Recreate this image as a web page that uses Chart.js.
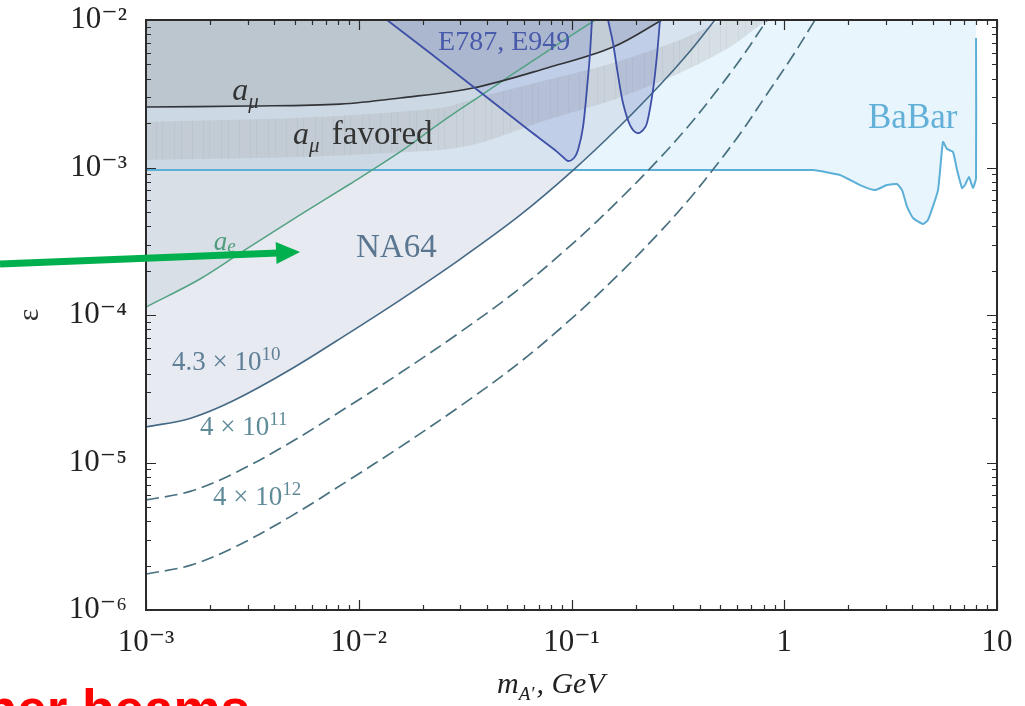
<!DOCTYPE html>
<html><head><meta charset="utf-8">
<script src="https://cdn.jsdelivr.net/npm/chart.js@4.4.1/dist/chart.umd.min.js"></script>
<style>html,body{margin:0;padding:0;background:#fff;}canvas{display:block;}</style>
</head><body>
<canvas id="c" width="1025" height="706"></canvas>
<script>
// ---------- axis ticks ----------
const xMajor = [0.001, 0.01, 0.1, 1, 10];
const xTickLabels = ['10⁻³', '10⁻²', '10⁻¹', '1', '10'];
const yMajor = [1e-6, 1e-5, 1e-4, 1e-3, 1e-2];
const yTickLabels = ['10⁻⁶', '10⁻⁵', '10⁻⁴', '10⁻³', '10⁻²'];
const minorSteps = [1, 2, 3, 4, 5, 6, 7, 8, 9];

// ---------- NA64 limit, 4.3e10 EOT (solid) ----------
const mNA64 = [0.001, 0.00161, 0.00257, 0.00475, 0.0091, 0.01563, 0.0299, 0.0573, 0.1016, 0.169, 0.261, 0.3606, 0.4725];
const eNA64 = [1.74e-5, 1.99e-5, 2.62e-5, 4.25e-5, 7.63e-5, 1.262e-4, 2.385e-4, 4.75e-4, 9.56e-4, 1.91e-3, 3.635e-3, 6.14e-3, 1.0e-2];
// ---------- projection 4e11 EOT (dashed) ----------
const m4e11 = [0.001, 0.00161, 0.00257, 0.00475, 0.0091, 0.01563, 0.0299, 0.0573, 0.1016, 0.169, 0.261, 0.3606, 0.4725, 0.619, 0.830];
const e4e11 = [5.57e-6, 6.37e-6, 8.39e-6, 1.360e-5, 2.442e-5, 4.04e-5, 7.63e-5, 1.520e-4, 3.06e-4, 6.11e-4, 1.164e-3, 1.965e-3, 3.20e-3, 5.35e-3, 1.0e-2];
// ---------- projection 4e12 EOT (dashed) ----------
const m4e12 = [0.001, 0.00161, 0.00257, 0.00475, 0.0091, 0.01563, 0.0299, 0.0573, 0.1016, 0.169, 0.261, 0.3606, 0.4725, 0.619, 0.830, 1.087, 1.395];
const e4e12 = [1.754e-6, 2.006e-6, 2.64e-6, 4.28e-6, 7.69e-6, 1.272e-5, 2.403e-5, 4.79e-5, 9.64e-5, 1.924e-4, 3.67e-4, 6.19e-4, 1.008e-3, 1.685e-3, 3.15e-3, 5.61e-3, 1.0e-2];
// ---------- a_e ----------
const mAe = [0.001, 0.001794, 0.00292, 0.0053, 0.0091, 0.01563, 0.0241, 0.03715, 0.0711, 0.129];
const eAe = [1.132e-4, 1.754e-4, 2.76e-4, 4.77e-4, 7.73e-4, 1.274e-3, 2.00e-3, 3.05e-3, 5.70e-3, 1.0e-2];
// ---------- a_mu ----------
const mAmu = [0.001, 0.00308, 0.00816, 0.01563, 0.03443, 0.07674, 0.1567, 0.2663];
const eAmu = [2.57e-3, 2.61e-3, 2.69e-3, 2.96e-3, 3.46e-3, 4.73e-3, 6.56e-3, 1.0e-2];
// ---------- a_mu favored band ----------
const mBandHi = [0.001, 0.0053, 0.0241, 0.03715, 0.07674, 0.1567, 0.3236, 0.462, 0.5097, 0.8387];
const eBandHi = [2.035e-3, 2.17e-3, 2.53e-3, 3.01e-3, 3.92e-3, 5.11e-3, 7.32e-3, 9.25e-3, 1.0e-2, 1.0e-2];
const mBandLo = [0.001, 0.0053, 0.0241, 0.03715, 0.07674, 0.1567, 0.3236, 0.556, 0.794, 0.8387];
const eBandLo = [1.125e-3, 1.178e-3, 1.315e-3, 1.466e-3, 2.10e-3, 2.87e-3, 4.37e-3, 6.56e-3, 9.55e-3, 1.0e-2];
// ---------- E787, E949 ----------
const mE1 = [0.01358, 0.02163, 0.03715, 0.06381, 0.0836, 0.0912, 0.0963, 0.1028, 0.1073, 0.1133, 0.1196, 0.1222, 0.1248];
const eE1 = [1.0e-2, 5.97e-3, 3.25e-3, 1.767e-3, 1.315e-3, 1.178e-3, 1.107e-3, 1.160e-3, 1.315e-3, 1.884e-3, 4.11e-3, 5.97e-3, 1.0e-2];
const mE2 = [0.1485, 0.1567, 0.1654, 0.1746, 0.1884, 0.2032, 0.2169, 0.2264, 0.2416, 0.2523, 0.2606];
const eE2 = [1.0e-2, 6.98e-3, 4.24e-3, 2.74e-3, 1.94e-3, 1.714e-3, 1.795e-3, 2.00e-3, 3.35e-3, 5.79e-3, 1.0e-2];
// ---------- BaBar ----------
const mBaBar = [0.001, 1.0, 1.365, 1.828, 2.27, 2.67, 3.04, 3.39, 3.58, 3.78, 4.03, 4.49, 4.74, 5.28, 5.57, 5.82, 6.21, 6.49, 6.85, 7.07, 7.38, 7.71, 7.97, 7.97];
const eBaBar = [9.61e-4, 9.61e-4, 9.61e-4, 8.89e-4, 7.60e-4, 7.03e-4, 7.60e-4, 7.73e-4, 7.03e-4, 5.40e-4, 4.55e-4, 4.14e-4, 4.41e-4, 7.03e-4, 1.49e-3, 1.334e-3, 1.274e-3, 9.61e-4, 7.26e-4, 7.60e-4, 8.63e-4, 7.26e-4, 8.49e-4, 7.55e-3];

// ---------- text annotations (data coordinates) ----------
const SERIF = '"Liberation Serif", "DejaVu Serif", serif';
const annotations = [
  { at: [0.00254, 2.87e-3], color: '#333333', parts: [{ t: 'a', f: 'italic 32px ' + SERIF }, { t: 'μ', f: 'italic 21px ' + SERIF, dy: 8 }] },
  { at: [0.00491, 1.442e-3], color: '#333333', parts: [{ t: 'a', f: 'italic 32px ' + SERIF }, { t: 'μ', f: 'italic 21px ' + SERIF, dy: 8, gap: 4 }, { t: ' favored', f: '33px ' + SERIF }] },
  { at: [0.02359, 6.27e-3], color: '#4a5aaa', parts: [{ t: 'E787, E949', f: '28px ' + SERIF }] },
  { at: [2.476, 1.854e-3], color: '#62b0d8', parts: [{ t: 'BaBar', f: '35px ' + SERIF }] },
  { at: [0.00971, 2.47e-4], color: '#5a7690', parts: [{ t: 'NA64', f: '33px ' + SERIF }] },
  { at: [0.00208, 2.78e-4], color: '#4f9c7c', parts: [{ t: 'a', f: 'italic 27px ' + SERIF }, { t: 'e', f: 'italic 19px ' + SERIF, dy: 2 }] },
  { at: [0.001325, 4.24e-5], color: '#5f7f98', parts: [{ t: '4.3 × 10', f: '27px ' + SERIF }, { t: '10', f: '19px ' + SERIF, dy: -10 }] },
  { at: [0.001794, 1.535e-5], color: '#5f8a98', parts: [{ t: '4 × 10', f: '27px ' + SERIF }, { t: '11', f: '19px ' + SERIF, dy: -10 }] },
  { at: [0.002065, 5.15e-6], color: '#5f8a98', parts: [{ t: '4 × 10', f: '27px ' + SERIF }, { t: '12', f: '19px ' + SERIF, dy: -10 }] }
];
const arrowTail = [2.06e-4, 2.22e-4];
const arrowTip = [0.0053, 2.67e-4];
const slideText = 'ner beams';

// ---------- helpers ----------
const pts = (ms, es) => ms.map((m, i) => ({ x: m, y: es[i] }));
const decadeTicks = (majors) => {
  const out = [];
  majors.forEach((d, i) => {
    if (i === majors.length - 1) { out.push(d); return; }
    minorSteps.forEach(k => out.push(parseFloat((d * k).toPrecision(6))));
  });
  return out;
};
const xTicks = decadeTicks(xMajor);
const yTicks = decadeTicks(yMajor);
const isMajorOf = (majors, v) => majors.findIndex(m => Math.abs(Math.log10(v / m)) < 1e-6);

const canvas = document.getElementById('c');
const ctx0 = canvas.getContext('2d');
// hatched fill for the a_mu favored band
const hc = document.createElement('canvas');
hc.width = 47; hc.height = 4;
const hg = hc.getContext('2d');
hg.fillStyle = 'rgba(176,178,182,0.34)'; hg.fillRect(0, 0, 47, 4);
hg.fillStyle = 'rgba(140,145,150,0.10)';
[4, 15, 21, 33, 40].forEach(x => hg.fillRect(x, 0, 1, 4));
const hatch = ctx0.createPattern(hc, 'repeat');

const bandPoly = pts(mBandHi, eBandHi).concat(pts(mBandLo, eBandLo).reverse());
const NONE = 'rgba(0,0,0,0)';

const datasets = [
  // fills
  { label: 'BaBar region', data: pts(mBaBar, eBaBar), fill: 'end', backgroundColor: 'rgba(190,225,245,0.35)', borderColor: NONE, borderWidth: 0, tension: 0.15, order: 20 },
  { label: 'NA64 region', data: pts(mNA64, eNA64), fill: 'end', backgroundColor: 'rgba(175,185,205,0.3)', borderColor: NONE, borderWidth: 0, tension: 0.35, order: 19 },
  { label: 'a_e region', data: pts(mAe, eAe), fill: 'end', backgroundColor: 'rgba(160,180,190,0.2)', borderColor: NONE, borderWidth: 0, tension: 0.35, order: 18 },
  { label: 'a_mu region', data: pts(mAmu, eAmu), fill: 'end', backgroundColor: 'rgba(150,155,160,0.3)', borderColor: NONE, borderWidth: 0, tension: 0.35, order: 17 },
  { label: 'a_mu favored', data: bandPoly, fill: 'shape', backgroundColor: hatch, borderColor: NONE, borderWidth: 0, tension: 0.25, order: 16 },
  { label: 'E787 region 1', data: pts(mE1, eE1), fill: 'end', backgroundColor: 'rgba(90,110,200,0.18)', borderColor: NONE, borderWidth: 0, tension: 0.3, order: 15 },
  { label: 'E787 region 2', data: pts(mE2, eE2), fill: 'end', backgroundColor: 'rgba(90,110,200,0.18)', borderColor: NONE, borderWidth: 0, tension: 0.3, order: 14 },
  // lines
  { label: 'BaBar', data: pts(mBaBar, eBaBar), fill: false, borderColor: '#5cb0d8', borderWidth: 2, tension: 0.15, order: 8 },
  { label: 'a_e', data: pts(mAe, eAe), fill: false, borderColor: '#52a283', borderWidth: 1.5, tension: 0.35, order: 7 },
  { label: 'a_mu', data: pts(mAmu, eAmu), fill: false, borderColor: '#333438', borderWidth: 1.6, tension: 0.35, order: 6 },
  { label: 'NA64 4.3e10', data: pts(mNA64, eNA64), fill: false, borderColor: '#456985', borderWidth: 1.6, tension: 0.35, order: 5 },
  { label: 'NA64 4e11', data: pts(m4e11, e4e11), fill: false, borderColor: '#48707f', borderWidth: 1.7, borderDash: [13, 6], tension: 0.35, order: 4 },
  { label: 'NA64 4e12', data: pts(m4e12, e4e12), fill: false, borderColor: '#48707f', borderWidth: 1.7, borderDash: [13, 6], tension: 0.35, order: 3 },
  { label: 'E787 1', data: pts(mE1, eE1), fill: false, borderColor: '#3d4fa6', borderWidth: 1.8, tension: 0.3, order: 2 },
  { label: 'E787 2', data: pts(mE2, eE2), fill: false, borderColor: '#3d4fa6', borderWidth: 1.8, tension: 0.3, order: 1 }
];

const overlay = {
  id: 'overlay',
  afterDatasetsDraw(chart) {
    const { ctx, scales: { x, y } } = chart;
    ctx.save();
    ctx.textAlign = 'left'; ctx.textBaseline = 'alphabetic';
    annotations.forEach(a => {
      let px = x.getPixelForValue(a.at[0]);
      const py = y.getPixelForValue(a.at[1]);
      ctx.fillStyle = a.color;
      a.parts.forEach(p => {
        ctx.font = p.f;
        ctx.fillText(p.t, px, py + (p.dy || 0));
        px += ctx.measureText(p.t).width + (p.gap || 0);
      });
    });
    ctx.restore();
  },
  afterDraw(chart) {
    const { ctx, chartArea: a, scales: { x, y } } = chart;
    ctx.save();
    ctx.strokeStyle = '#2b2b2b';
    ctx.lineWidth = 1.2;
    ctx.beginPath();
    xTicks.forEach(v => {
      const px = Math.round(x.getPixelForValue(v)) + 0.5;
      const L = isMajorOf(xMajor, v) >= 0 ? 10 : 5;
      ctx.moveTo(px, a.bottom); ctx.lineTo(px, a.bottom - L);
      ctx.moveTo(px, a.top); ctx.lineTo(px, a.top + L);
    });
    yTicks.forEach(v => {
      const py = Math.round(y.getPixelForValue(v)) + 0.5;
      const L = isMajorOf(yMajor, v) >= 0 ? 10 : 5;
      ctx.moveTo(a.left, py); ctx.lineTo(a.left + L, py);
      ctx.moveTo(a.right, py); ctx.lineTo(a.right - L, py);
    });
    ctx.stroke();
    ctx.lineWidth = 2;
    ctx.strokeRect(a.left, a.top, a.right - a.left, a.bottom - a.top);

    // x-axis title: m_A', GeV
    ctx.fillStyle = '#222';
    ctx.textBaseline = 'alphabetic'; ctx.textAlign = 'left';
    let tx = 497; const ty = 693;
    ctx.font = 'italic 30px ' + SERIF; ctx.fillText('m', tx, ty); tx += ctx.measureText('m').width;
    ctx.font = 'italic 19px ' + SERIF; ctx.fillText('A′', tx, ty + 7); tx += ctx.measureText('A′').width + 2;
    ctx.font = 'italic 30px ' + SERIF; ctx.fillText(', GeV', tx, ty);

    // green arrow
    const x0 = x.getPixelForValue(arrowTail[0]), y0 = y.getPixelForValue(arrowTail[1]);
    const x1 = x.getPixelForValue(arrowTip[0]), y1 = y.getPixelForValue(arrowTip[1]);
    const len = Math.hypot(x1 - x0, y1 - y0), ux = (x1 - x0) / len, uy = (y1 - y0) / len;
    const hl = 24, hw = 11;
    const bx = x1 - ux * hl, by = y1 - uy * hl;
    ctx.strokeStyle = '#00b04f'; ctx.fillStyle = '#00b04f';
    ctx.lineWidth = 7; ctx.lineCap = 'butt';
    ctx.beginPath(); ctx.moveTo(x0, y0); ctx.lineTo(bx + ux * 2, by + uy * 2); ctx.stroke();
    ctx.beginPath();
    ctx.moveTo(x1, y1);
    ctx.lineTo(bx - uy * hw, by + ux * hw);
    ctx.lineTo(bx + uy * hw, by - ux * hw);
    ctx.closePath(); ctx.fill();

    // red slide text (cut off at bottom)
    ctx.fillStyle = '#ff0000';
    ctx.font = 'bold 53px "Liberation Sans", Arial, sans-serif';
    ctx.textAlign = 'right';
    ctx.fillText(slideText, 250, 727);
    ctx.restore();
  }
};

const tickFont = { family: SERIF, size: 31 };
new Chart(canvas, {
  type: 'line',
  data: { datasets },
  options: {
    responsive: false,
    animation: false,
    devicePixelRatio: 1,
    events: [],
    layout: { padding: { left: 0, right: 28, top: 20, bottom: 0 } },
    plugins: { legend: { display: false }, tooltip: { enabled: false } },
    elements: { point: { radius: 0, hoverRadius: 0 }, line: { borderJoinStyle: 'round', borderCapStyle: 'butt' } },
    scales: {
      x: {
        type: 'logarithmic', min: 0.001, max: 10,
        grid: { display: false, drawTicks: false }, border: { display: false },
        afterBuildTicks: s => { s.ticks = xTicks.map(v => ({ value: v })); },
        afterFit: s => { s.height = 96; s.paddingLeft = 0; s.paddingRight = 0; },
        ticks: {
          autoSkip: false, maxRotation: 0, minRotation: 0, padding: 14, color: '#222', font: tickFont,
          callback: v => { const i = isMajorOf(xMajor, v); return i >= 0 ? xTickLabels[i] : ''; }
        }
      },
      y: {
        type: 'logarithmic', min: 1e-6, max: 1e-2,
        grid: { display: false, drawTicks: false }, border: { display: false },
        afterBuildTicks: s => { s.ticks = yTicks.map(v => ({ value: v })); },
        afterFit: s => { s.width = 146; s.paddingTop = 0; s.paddingBottom = 0; },
        title: { display: true, text: 'ε', color: '#333', font: { family: SERIF, size: 30 }, padding: { top: 12, bottom: 0 } },
        ticks: {
          autoSkip: false, padding: 19, color: '#222', font: tickFont,
          callback: v => { const i = isMajorOf(yMajor, v); return i >= 0 ? yTickLabels[i] : ''; }
        }
      }
    }
  },
  plugins: [overlay]
});
</script>
</body></html>
